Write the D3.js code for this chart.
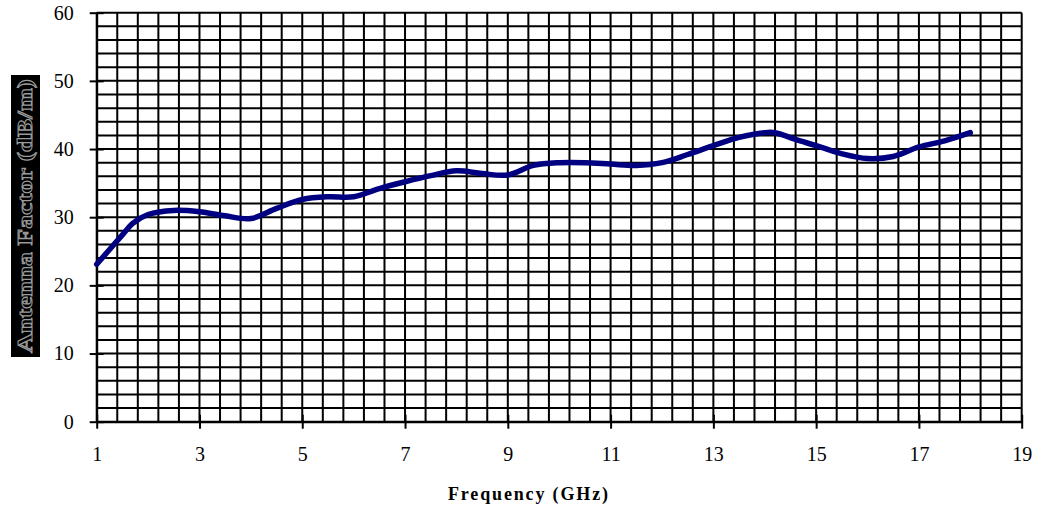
<!DOCTYPE html>
<html>
<head>
<meta charset="utf-8">
<script src="https://cdnjs.cloudflare.com/ajax/libs/d3/7.8.5/d3.min.js"></script>
<style>
  body { margin: 0; background: #fff; }
  text { font-family: "Liberation Serif", "Times New Roman", serif; }
</style>
</head>
<body>
<div id="chart"></div>
<script>
// values
var freqs = [1, 1.5, 1.7, 2, 2.5, 3, 3.5, 4, 4.5, 5, 5.5, 6, 6.5, 7, 7.5, 8, 8.5, 9, 9.5,
             10, 10.5, 11, 11.5, 12, 12.5, 13, 13.5, 14, 14.2, 14.6, 15, 15.5, 16, 16.5, 17, 17.5, 18];
var factors = [23.1, 27.4, 29.1, 30.4, 31.0, 30.8, 30.2, 29.8, 31.3, 32.6, 33.0, 33.0, 34.2, 35.2, 36.1, 36.8, 36.4, 36.2, 37.6,
               38.0, 38.0, 37.8, 37.6, 38.0, 39.2, 40.5, 41.7, 42.4, 42.4, 41.4, 40.5, 39.3, 38.6, 38.9, 40.3, 41.2, 42.4];
var xTicks = [1, 3, 5, 7, 9, 11, 13, 15, 17, 19];
var yTicks = [0, 10, 20, 30, 40, 50, 60];
var xTitle = "Frequency (GHz)";
var yTitle = "Antenna Factor (dB/m)";

var width = 1050, height = 510;
var plotLeft = 96.7, plotRight = 1021.7, plotTop = 12.7, plotBottom = 421.7;

var svg = d3.select("#chart").append("svg")
  .attr("width", width)
  .attr("height", height);

var x = d3.scaleLinear().domain([1, 19]).range([plotLeft, plotRight]);
var y = d3.scaleLinear().domain([0, 60]).range([plotBottom, plotTop]);

// minor grid: every 0.4 GHz and every 2 dB/m
var xGrid = d3.range(0, 46).map(function(i){ return 1 + i * 0.4; });
var yGrid = d3.range(0, 31).map(function(i){ return i * 2; });

var grid = svg.append("g");
grid.selectAll("line.v").data(xGrid).enter().append("line")
  .attr("class", "v")
  .attr("x1", function(d){ return x(d); })
  .attr("x2", function(d){ return x(d); })
  .attr("y1", plotTop).attr("y2", plotBottom)
  .attr("stroke", "#000").attr("stroke-width", 2);
grid.selectAll("line.h").data(yGrid).enter().append("line")
  .attr("class", "h")
  .attr("y1", function(d){ return y(d); })
  .attr("y2", function(d){ return y(d); })
  .attr("x1", plotLeft).attr("x2", plotRight)
  .attr("stroke", "#000").attr("stroke-width", 2);

// axes with ticks crossing the axis line
var yAxis = d3.axisLeft(y).tickValues(yTicks).tickSizeInner(7).tickSizeOuter(0).tickPadding(16);
var yg = svg.append("g").attr("transform", "translate(" + plotLeft + ",0)").call(yAxis);
yg.selectAll(".tick line").attr("x2", 7).attr("x1", -7).attr("stroke-width", 2);
yg.select(".domain").attr("stroke-width", 2);

var xAxis = d3.axisBottom(x).tickValues(xTicks).tickSizeInner(7).tickSizeOuter(0).tickPadding(18);
var xg = svg.append("g").attr("transform", "translate(0," + plotBottom + ")").call(xAxis);
xg.selectAll(".tick line").attr("y1", -7).attr("y2", 7).attr("stroke-width", 2);
xg.select(".domain").attr("stroke-width", 2);

svg.selectAll(".tick text")
  .style("font-family", "'Liberation Serif', 'Times New Roman', serif")
  .style("font-size", "20px")
  .attr("fill", "#000");

// the curve
var pts = freqs.map(function(f, i){ return [f, factors[i]]; });
var line = d3.line()
  .x(function(d){ return x(d[0]); })
  .y(function(d){ return y(d[1]); })
  .curve(d3.curveCatmullRom.alpha(0.5));

svg.append("path")
  .datum(pts)
  .attr("d", line)
  .attr("fill", "none")
  .attr("stroke", "#000080")
  .attr("stroke-width", 5.5)
  .attr("stroke-linecap", "round")
  .attr("stroke-linejoin", "round");

// axis titles
svg.append("text")
  .attr("x", 528).attr("y", 500)
  .attr("text-anchor", "middle")
  .attr("textLength", 160)
  .style("font-size", "18px")
  .style("font-weight", "bold")
  .text(xTitle);

// y title drawn like the reference: outlined letters on a black band
svg.append("rect")
  .attr("x", 11).attr("y", 75)
  .attr("width", 29).attr("height", 282)
  .attr("fill", "#000");
svg.append("text")
  .attr("transform", "translate(32,216) rotate(-90)")
  .attr("text-anchor", "middle")
  .attr("textLength", 274)
  .attr("lengthAdjust", "spacingAndGlyphs")
  .style("font-size", "21px")
  .style("font-weight", "bold")
  .attr("fill", "#000")
  .attr("stroke", "#9a9a9a")
  .attr("stroke-width", 1)
  .text(yTitle);
</script>
</body>
</html>
